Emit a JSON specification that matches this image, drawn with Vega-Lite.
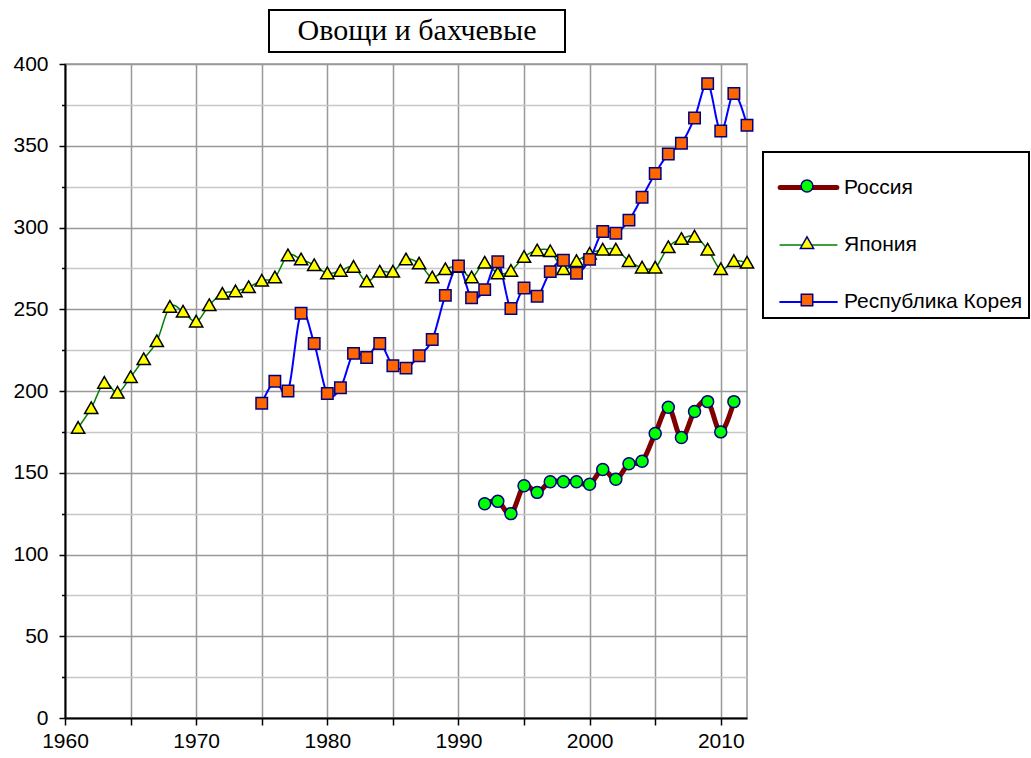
{
  "$schema": "https://vega.github.io/schema/vega-lite/v6.json",
  "width": 682,
  "height": 654,
  "autosize": {"type": "none"},
  "padding": {"left": 65, "top": 64, "right": 284, "bottom": 40},
  "background": "white",
  "config": {
    "view": {"stroke": "#999999", "strokeWidth": 1.5},
    "axis": {
      "labelFont": "Liberation Sans",
      "labelFontSize": 21,
      "labelColor": "black",
      "domainColor": "black",
      "domainWidth": 2,
      "tickColor": "black",
      "tickWidth": 1.5,
      "labelOverlap": false,
      "labelFlush": false,
      "title": null
    }
  },
  "data": {
    "values": [
      {"c": "Россия", "year": 1992, "v": 131},
      {"c": "Россия", "year": 1993, "v": 132.5},
      {"c": "Россия", "year": 1994, "v": 125},
      {"c": "Россия", "year": 1995, "v": 142},
      {"c": "Россия", "year": 1996, "v": 138},
      {"c": "Россия", "year": 1997, "v": 144.5},
      {"c": "Россия", "year": 1998, "v": 144.5},
      {"c": "Россия", "year": 1999, "v": 144.5},
      {"c": "Россия", "year": 2000, "v": 143},
      {"c": "Россия", "year": 2001, "v": 152},
      {"c": "Россия", "year": 2002, "v": 146},
      {"c": "Россия", "year": 2003, "v": 155.5},
      {"c": "Россия", "year": 2004, "v": 157},
      {"c": "Россия", "year": 2005, "v": 174},
      {"c": "Россия", "year": 2006, "v": 190},
      {"c": "Россия", "year": 2007, "v": 171.5},
      {"c": "Россия", "year": 2008, "v": 187.5},
      {"c": "Россия", "year": 2009, "v": 193.5},
      {"c": "Россия", "year": 2010, "v": 175},
      {"c": "Россия", "year": 2011, "v": 193.5},
      {"c": "Япония", "year": 1961, "v": 177.5},
      {"c": "Япония", "year": 1962, "v": 189.5},
      {"c": "Япония", "year": 1963, "v": 205},
      {"c": "Япония", "year": 1964, "v": 199},
      {"c": "Япония", "year": 1965, "v": 208.5},
      {"c": "Япония", "year": 1966, "v": 219.5},
      {"c": "Япония", "year": 1967, "v": 230.5},
      {"c": "Япония", "year": 1968, "v": 251.5},
      {"c": "Япония", "year": 1969, "v": 248.5},
      {"c": "Япония", "year": 1970, "v": 242.5},
      {"c": "Япония", "year": 1971, "v": 252.5},
      {"c": "Япония", "year": 1972, "v": 259.5},
      {"c": "Япония", "year": 1973, "v": 261},
      {"c": "Япония", "year": 1974, "v": 263.5},
      {"c": "Япония", "year": 1975, "v": 267.5},
      {"c": "Япония", "year": 1976, "v": 269.5},
      {"c": "Япония", "year": 1977, "v": 283},
      {"c": "Япония", "year": 1978, "v": 280.5},
      {"c": "Япония", "year": 1979, "v": 277},
      {"c": "Япония", "year": 1980, "v": 272},
      {"c": "Япония", "year": 1981, "v": 273.5},
      {"c": "Япония", "year": 1982, "v": 276},
      {"c": "Япония", "year": 1983, "v": 267},
      {"c": "Япония", "year": 1984, "v": 273},
      {"c": "Япония", "year": 1985, "v": 273},
      {"c": "Япония", "year": 1986, "v": 280.5},
      {"c": "Япония", "year": 1987, "v": 278},
      {"c": "Япония", "year": 1988, "v": 269.5},
      {"c": "Япония", "year": 1989, "v": 274.5},
      {"c": "Япония", "year": 1990, "v": 276},
      {"c": "Япония", "year": 1991, "v": 269.5},
      {"c": "Япония", "year": 1992, "v": 278.5},
      {"c": "Япония", "year": 1993, "v": 272},
      {"c": "Япония", "year": 1994, "v": 273.5},
      {"c": "Япония", "year": 1995, "v": 282},
      {"c": "Япония", "year": 1996, "v": 286},
      {"c": "Япония", "year": 1997, "v": 285.5},
      {"c": "Япония", "year": 1998, "v": 274.5},
      {"c": "Япония", "year": 1999, "v": 279.5},
      {"c": "Япония", "year": 2000, "v": 284},
      {"c": "Япония", "year": 2001, "v": 286.5},
      {"c": "Япония", "year": 2002, "v": 286.5},
      {"c": "Япония", "year": 2003, "v": 279.5},
      {"c": "Япония", "year": 2004, "v": 275.5},
      {"c": "Япония", "year": 2005, "v": 275.5},
      {"c": "Япония", "year": 2006, "v": 288},
      {"c": "Япония", "year": 2007, "v": 293},
      {"c": "Япония", "year": 2008, "v": 294.5},
      {"c": "Япония", "year": 2009, "v": 286.5},
      {"c": "Япония", "year": 2010, "v": 274.5},
      {"c": "Япония", "year": 2011, "v": 279.5},
      {"c": "Япония", "year": 2012, "v": 278.5},
      {"c": "Республика Корея", "year": 1975, "v": 192.5},
      {"c": "Республика Корея", "year": 1976, "v": 206},
      {"c": "Республика Корея", "year": 1977, "v": 200},
      {"c": "Республика Корея", "year": 1978, "v": 247.5},
      {"c": "Республика Корея", "year": 1979, "v": 229},
      {"c": "Республика Корея", "year": 1980, "v": 198.5},
      {"c": "Республика Корея", "year": 1981, "v": 202},
      {"c": "Республика Корея", "year": 1982, "v": 223},
      {"c": "Республика Корея", "year": 1983, "v": 220.5},
      {"c": "Республика Корея", "year": 1984, "v": 229},
      {"c": "Республика Корея", "year": 1985, "v": 215.5},
      {"c": "Республика Корея", "year": 1986, "v": 214},
      {"c": "Республика Корея", "year": 1987, "v": 221.5},
      {"c": "Республика Корея", "year": 1988, "v": 231.5},
      {"c": "Республика Корея", "year": 1989, "v": 258.5},
      {"c": "Республика Корея", "year": 1990, "v": 276.5},
      {"c": "Республика Корея", "year": 1991, "v": 257},
      {"c": "Республика Корея", "year": 1992, "v": 262},
      {"c": "Республика Корея", "year": 1993, "v": 279},
      {"c": "Республика Корея", "year": 1994, "v": 250.5},
      {"c": "Республика Корея", "year": 1995, "v": 263},
      {"c": "Республика Корея", "year": 1996, "v": 258},
      {"c": "Республика Корея", "year": 1997, "v": 273},
      {"c": "Республика Корея", "year": 1998, "v": 280},
      {"c": "Республика Корея", "year": 1999, "v": 272},
      {"c": "Республика Корея", "year": 2000, "v": 280.5},
      {"c": "Республика Корея", "year": 2001, "v": 297.5},
      {"c": "Республика Корея", "year": 2002, "v": 296.5},
      {"c": "Республика Корея", "year": 2003, "v": 304.5},
      {"c": "Республика Корея", "year": 2004, "v": 318.5},
      {"c": "Республика Корея", "year": 2005, "v": 333},
      {"c": "Республика Корея", "year": 2006, "v": 345},
      {"c": "Республика Корея", "year": 2007, "v": 351.5},
      {"c": "Республика Корея", "year": 2008, "v": 367},
      {"c": "Республика Корея", "year": 2009, "v": 388},
      {"c": "Республика Корея", "year": 2010, "v": 359},
      {"c": "Республика Корея", "year": 2011, "v": 382},
      {"c": "Республика Корея", "year": 2012, "v": 362.5}
    ]
  },
  "encoding": {
    "x": {
      "field": "year",
      "type": "quantitative",
      "scale": {"domain": [1960, 2012], "nice": false, "zero": false},
      "axis": {
        "values": [1960, 1965, 1970, 1975, 1980, 1985, 1990, 1995, 2000, 2005, 2010],
        "format": "d",
        "labelExpr": "datum.value % 10 === 0 ? datum.label : ''",
        "grid": true,
        "gridColor": "#999999",
        "gridWidth": 1.5,
        "tickSize": 7,
        "labelPadding": 5
      }
    },
    "y": {
      "field": "v",
      "type": "quantitative",
      "scale": {"domain": [0, 400], "nice": false},
      "axis": {
        "values": [0, 25, 50, 75, 100, 125, 150, 175, 200, 225, 250, 275, 300, 325, 350, 375, 400],
        "labelExpr": "datum.value % 50 === 0 ? datum.label : ''",
        "grid": true,
        "gridColor": {"condition": {"test": "datum.value % 50 === 0", "value": "#999999"}, "value": "#c8c8c8"},
        "gridWidth": 1.5,
        "tickSize": {"condition": {"test": "datum.value % 50 === 0", "value": 6}, "value": 3.5},
        "labelPadding": 11
      }
    }
  },
  "layer": [
    {
      "mark": {"type": "line", "interpolate": "cardinal", "strokeCap": "round", "strokeJoin": "round"},
      "encoding": {
        "stroke": {
          "field": "c",
          "type": "nominal",
          "sort": {"field": "v", "op": "max", "order": "ascending"},
          "scale": {"range": ["#800000", "#008000", "#0000ff"]},
          "legend": {
            "orient": "none", "legendX": 698, "legendY": 88,
            "title": null, "padding": 6, "rowPadding": 19,
            "symbolSize": 2916, "symbolType": "M-1.05,0H1.05", "symbolOffset": 10,
            "labelOffset": 6, "labelFont": "Liberation Sans", "labelFontSize": 21, "labelColor": "black", "labelLimit": 400,
            "strokeColor": "black",
            "encode": {"legend": {"update": {"strokeWidth": {"value": 2}}}, "symbols": {"update": {"strokeCap": {"value": "round"}}}}
          }
        },
        "strokeWidth": {
          "field": "c",
          "type": "nominal",
          "sort": {"field": "v", "op": "max", "order": "ascending"},
          "scale": {"type": "ordinal", "range": [5, 1.5, 2]},
          "legend": {
            "orient": "none", "legendX": 698, "legendY": 88,
            "title": null, "padding": 6, "rowPadding": 19,
            "symbolSize": 2916, "symbolType": "M-1.05,0H1.05", "symbolOffset": 10,
            "labelOffset": 6, "labelFont": "Liberation Sans", "labelFontSize": 21, "labelColor": "black", "labelLimit": 400,
            "strokeColor": "black",
            "encode": {"legend": {"update": {"strokeWidth": {"value": 2}}}, "symbols": {"update": {"strokeCap": {"value": "round"}}}}
          }
        },
        "strokeDash": {
          "field": "c",
          "type": "nominal",
          "scale": {"range": [[1, 0]]},
          "legend": {
            "orient": "none", "legendX": 204, "legendY": -54,
            "values": [],
            "title": "\u200b\u00a0\u00a0\u00a0Овощи и бахчевые\u00a0\u00a0\u00a0\u200b",
            "titleFont": "Liberation Serif", "titleFontSize": 30, "titleFontWeight": "normal", "titleColor": "black", "titleLimit": 600,
            "titlePadding": 0, "padding": 6, "strokeColor": "black",
            "encode": {"legend": {"update": {"strokeWidth": {"value": 2}}}}
          }
        }
      }
    },
    {
      "mark": {"type": "point", "filled": true, "opacity": 1, "size": 2916, "strokeWidth": 1.5},
      "encoding": {
        "shape": {
          "field": "c",
          "type": "nominal",
          "scale": {
            "domain": ["Россия", "Япония", "Республика Корея"],
            "range": [
              "M0.222,0C0.222,0.1226,0.1226,0.222,0,0.222C-0.1226,0.222,-0.222,0.1226,-0.222,0C-0.222,-0.1226,-0.1226,-0.222,0,-0.222C0.1226,-0.222,0.222,-0.1226,0.222,0Z",
              "M0,-0.23L0.245,0.2L-0.245,0.2Z",
              "M-0.212,-0.212H0.212V0.212H-0.212Z"
            ]
          },
          "legend": {
            "orient": "none", "legendX": 698, "legendY": 88,
            "title": null, "padding": 6, "rowPadding": 19,
            "symbolSize": 2916, "symbolOffset": 10, "symbolStrokeWidth": 1.5,
            "labelOffset": 6, "labelFont": "Liberation Sans", "labelFontSize": 21, "labelExpr": "''", "labelLimit": 400,
            "encode": {
              "symbols": {"update": {"stroke": {"signal": "datum.label === 'Япония' ? 'black' : '#000080'"}, "strokeWidth": {"value": 1.5}, "opacity": {"value": 1}}}
            }
          }
        },
        "fill": {
          "field": "c",
          "type": "nominal",
          "scale": {
            "domain": ["Россия", "Япония", "Республика Корея"],
            "range": ["#00ff00", "#ffff00", "#ff6600"]
          },
          "legend": {
            "orient": "none", "legendX": 698, "legendY": 88,
            "title": null, "padding": 6, "rowPadding": 19,
            "symbolSize": 2916, "symbolOffset": 10, "symbolStrokeWidth": 1.5,
            "labelOffset": 6, "labelFont": "Liberation Sans", "labelFontSize": 21, "labelExpr": "''", "labelLimit": 400,
            "encode": {
              "symbols": {"update": {"stroke": {"signal": "datum.label === 'Япония' ? 'black' : '#000080'"}, "strokeWidth": {"value": 1.5}, "opacity": {"value": 1}}}
            }
          }
        },
        "stroke": {
          "condition": {"test": "datum.c === 'Япония'", "value": "black"},
          "value": "#000080"
        }
      }
    }
  ]
}
